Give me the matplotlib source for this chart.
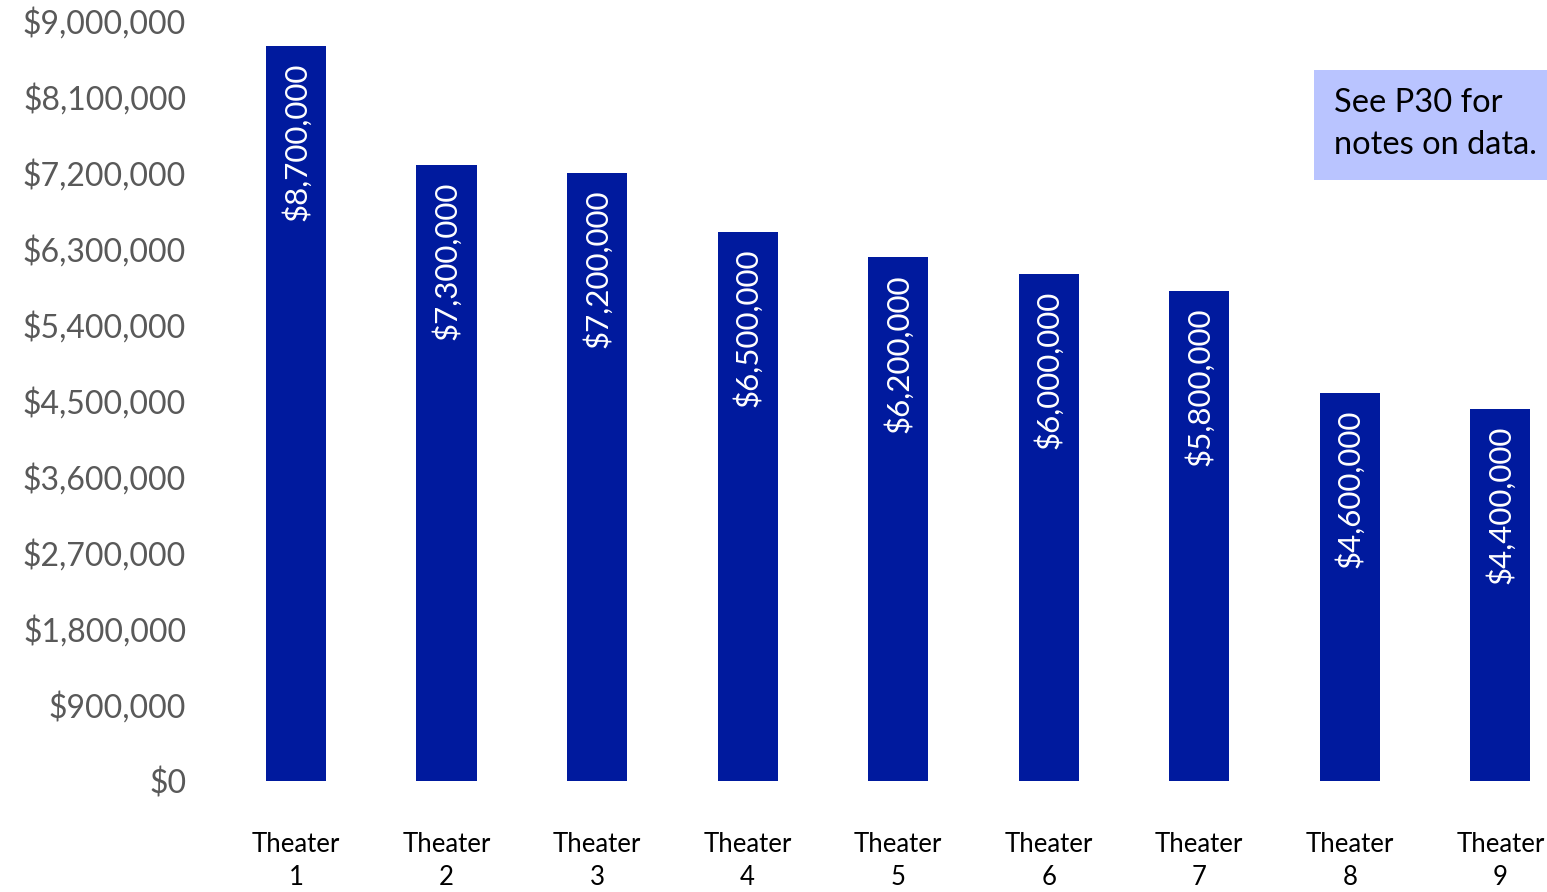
import matplotlib
matplotlib.use("Agg")
import matplotlib.pyplot as plt
from matplotlib.patches import Rectangle
from matplotlib.ticker import FuncFormatter

plt.rcParams['font.family'] = ['Lato', 'DejaVu Sans']

theaters = ["Theater\n1", "Theater\n2", "Theater\n3", "Theater\n4", "Theater\n5",
            "Theater\n6", "Theater\n7", "Theater\n8", "Theater\n9"]
revenue = [8700000, 7300000, 7200000, 6500000, 6200000, 6000000, 5800000, 4600000, 4400000]
yticks = [0, 900000, 1800000, 2700000, 3600000, 4500000, 5400000, 6300000, 7200000, 8100000, 9000000]
note = "See P30 for\nnotes on data."

bar_color = "#001A9E"

fig = plt.figure(figsize=(15.47, 8.92), dpi=100)
ax = fig.add_axes([200/1547, 111/892, 1347/1547, 760/892])

x = list(range(len(theaters)))
bars = ax.bar(x, revenue, width=0.4, color=bar_color)

for xi, v in zip(x, revenue):
    ax.annotate("${:,.0f}".format(v), (xi, v), xytext=(0, -12), textcoords="offset points",
                rotation=90, ha="center", va="top", color="white", fontsize=22.5)

ax.set_xlim(-0.638, 8.31)
ax.set_ylim(0, 9000000)
ax.set_yticks(yticks)
ax.yaxis.set_major_formatter(FuncFormatter(lambda v, p: "${:,.0f}".format(v)))
ax.set_xticks(x)
ax.set_xticklabels(theaters, fontsize=18.5, color="black", linespacing=1.4)
ax.tick_params(axis="x", length=0, pad=37)
ax.tick_params(axis="y", length=0, pad=10, labelsize=23, labelcolor="#595959")
for s in ax.spines.values():
    s.set_visible(False)

fig.patches.append(Rectangle((1314/1547, 1 - 180/892), 233/1547, 110/892,
                             transform=fig.transFigure, facecolor="#B9C4FF",
                             edgecolor="none"))
fig.text(1334/1547, 1 - 124/892, note, ha="left", va="center", fontsize=23.5,
         color="black", linespacing=1.5)

fig.savefig("out.png", dpi=100)
